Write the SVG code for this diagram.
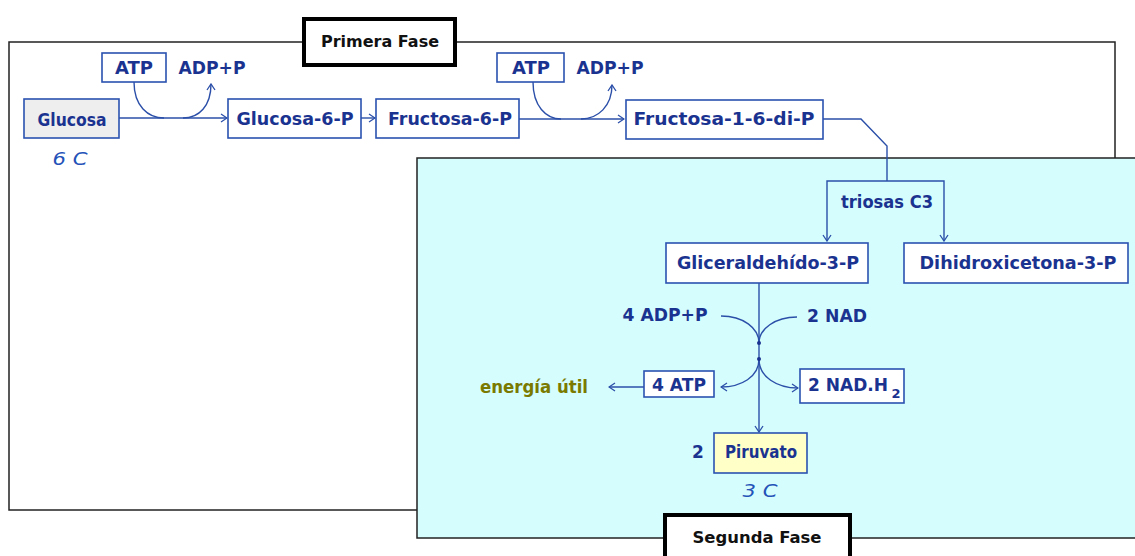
<svg xmlns="http://www.w3.org/2000/svg" width="1135" height="556" viewBox="0 0 1135 556">
<defs>
<style>
.bx{fill:#ffffff;stroke:#2b52b0;stroke-width:1.6}
.ln{fill:none;stroke:#2b4fa8;stroke-width:1.4}
.t{font-family:"DejaVu Sans",sans-serif;font-weight:bold;font-size:17px;fill:#1b3390;text-anchor:middle;dominant-baseline:central}
.c{font-family:"DejaVu Sans",sans-serif;font-size:18px;fill:#2452b8;text-anchor:middle;dominant-baseline:central;font-style:italic}
.ph{fill:#ffffff;stroke:#000;stroke-width:4}
.pt{font-family:"DejaVu Sans",sans-serif;font-weight:bold;font-size:15px;fill:#111;text-anchor:middle;dominant-baseline:central}
</style>
<marker id="ar" markerWidth="8" markerHeight="10" refX="7" refY="5" orient="auto" markerUnits="userSpaceOnUse">
<path d="M1,1 L7,5 L1,9" fill="none" stroke="#2b4fa8" stroke-width="1.3"/>
</marker>
</defs>
<rect width="1135" height="556" fill="#ffffff"/>
<g id="primera-fase-frame">
<rect x="9" y="42" width="1106" height="468" fill="#ffffff" stroke="#222" stroke-width="1.5"/>
</g>
<g id="segunda-fase-frame">
<rect x="417" y="158" width="730" height="380" fill="#d5fdfd" stroke="#222" stroke-width="1.5"/>
</g>
<g id="primera-fase-label">
<rect class="ph" x="304" y="19" width="151" height="46"/>
<text class="pt" x="380" y="42" textLength="118" lengthAdjust="spacingAndGlyphs">Primera Fase</text>
</g>
<g id="segunda-fase-label">
<rect class="ph" x="665" y="515" width="185" height="50"/>
<text class="pt" x="757" y="538" textLength="129" lengthAdjust="spacingAndGlyphs">Segunda Fase</text>
</g>
<g id="connectors">
<path class="ln" d="M119,118 H227" marker-end="url(#ar)"/>
<path class="ln" d="M134,82 C134,106 148,118 164,118"/>
<path class="ln" d="M183,118 C199,118 211,106 211,84" marker-end="url(#ar)"/>
<path class="ln" d="M361,118 H375" marker-end="url(#ar)"/>
<path class="ln" d="M519,119 H624" marker-end="url(#ar)"/>
<path class="ln" d="M533,82 C533,106 546,119 561,119"/>
<path class="ln" d="M581,119 C598,119 612,106 612,85" marker-end="url(#ar)"/>
<path class="ln" d="M823,119 H861 L887,146 V181"/>
<path class="ln" d="M887,181 H827 V241" marker-end="url(#ar)"/>
<path class="ln" d="M887,181 H944 V241" marker-end="url(#ar)"/>
<path class="ln" d="M759,283 V432" marker-end="url(#ar)"/>
<path class="ln" d="M721,316 C743,316 759,328 759,343"/>
<path class="ln" d="M797,317 C775,317 759,329 759,343"/>
<path class="ln" d="M759,359 C759,377 741,387 721,387" marker-end="url(#ar)"/>
<path class="ln" d="M759,359 C759,377 777,388 798,388" marker-end="url(#ar)"/>
<path class="ln" d="M644,387 H609" marker-end="url(#ar)"/>
<circle cx="759" cy="343" r="2" fill="#1b3390"/>
<circle cx="759" cy="359" r="2" fill="#1b3390"/>
</g>
<g id="glucosa">
<rect class="bx" x="24" y="99" width="95" height="39" style="fill:#eeeeee"/>
<text class="t" x="72" y="120" textLength="69" lengthAdjust="spacingAndGlyphs">Glucosa</text>
<text class="c" x="70" y="158" textLength="35" lengthAdjust="spacingAndGlyphs">6 C</text>
</g>
<g id="atp1">
<rect class="bx" x="102" y="53" width="64" height="29"/>
<text class="t" x="134" y="68" textLength="38" lengthAdjust="spacingAndGlyphs">ATP</text>
</g>
<g id="adp1">
<text class="t" x="212" y="68" textLength="67" lengthAdjust="spacingAndGlyphs">ADP+P</text>
</g>
<g id="glucosa-6-p">
<rect class="bx" x="228" y="99" width="133" height="39"/>
<text class="t" x="295" y="119" textLength="117" lengthAdjust="spacingAndGlyphs">Glucosa-6-P</text>
</g>
<g id="fructosa-6-p">
<rect class="bx" x="376" y="99" width="143" height="39"/>
<text class="t" x="450" y="119" textLength="124" lengthAdjust="spacingAndGlyphs">Fructosa-6-P</text>
</g>
<g id="atp2">
<rect class="bx" x="497" y="53" width="67" height="29"/>
<text class="t" x="531" y="68" textLength="38" lengthAdjust="spacingAndGlyphs">ATP</text>
</g>
<g id="adp2">
<text class="t" x="610" y="68" textLength="67" lengthAdjust="spacingAndGlyphs">ADP+P</text>
</g>
<g id="fructosa-1-6-di-p">
<rect class="bx" x="626" y="100" width="197" height="39"/>
<text class="t" x="724" y="119" textLength="181" lengthAdjust="spacingAndGlyphs">Fructosa-1-6-di-P</text>
</g>
<g id="triosas">
<text class="t" x="887" y="202" textLength="92" lengthAdjust="spacingAndGlyphs">triosas C3</text>
</g>
<g id="gliceraldehido">
<rect class="bx" x="666" y="243" width="202" height="40"/>
<text class="t" x="768" y="263" textLength="182" lengthAdjust="spacingAndGlyphs">Gliceraldehído-3-P</text>
</g>
<g id="dihidroxicetona">
<rect class="bx" x="904" y="243" width="224" height="40"/>
<text class="t" x="1018" y="263" textLength="197" lengthAdjust="spacingAndGlyphs">Dihidroxicetona-3-P</text>
</g>
<g id="adp4">
<text class="t" x="665" y="315" textLength="85" lengthAdjust="spacingAndGlyphs">4 ADP+P</text>
</g>
<g id="nad2">
<text class="t" x="837" y="316" textLength="60" lengthAdjust="spacingAndGlyphs">2 NAD</text>
</g>
<g id="atp4">
<rect class="bx" x="644" y="371" width="70" height="26"/>
<text class="t" x="679" y="385" textLength="54" lengthAdjust="spacingAndGlyphs">4 ATP</text>
</g>
<g id="energia">
<text class="t" x="534" y="387" textLength="108" lengthAdjust="spacingAndGlyphs" style="fill:#7a7a00">energía útil</text>
</g>
<g id="nadh2">
<rect class="bx" x="800" y="369" width="104" height="34"/>
<text class="t" x="848" y="385" textLength="80" lengthAdjust="spacingAndGlyphs">2 NAD.H</text>
<text class="t" x="896" y="393" style="font-size:13px">2</text>
</g>
<g id="piruvato">
<text class="t" x="698" y="452">2</text>
<rect class="bx" x="714" y="433" width="93" height="40" style="fill:#ffffc8"/>
<text class="t" x="761" y="452" textLength="72" lengthAdjust="spacingAndGlyphs">Piruvato</text>
<text class="c" x="760" y="490" textLength="35" lengthAdjust="spacingAndGlyphs">3 C</text>
</g>
</svg>
